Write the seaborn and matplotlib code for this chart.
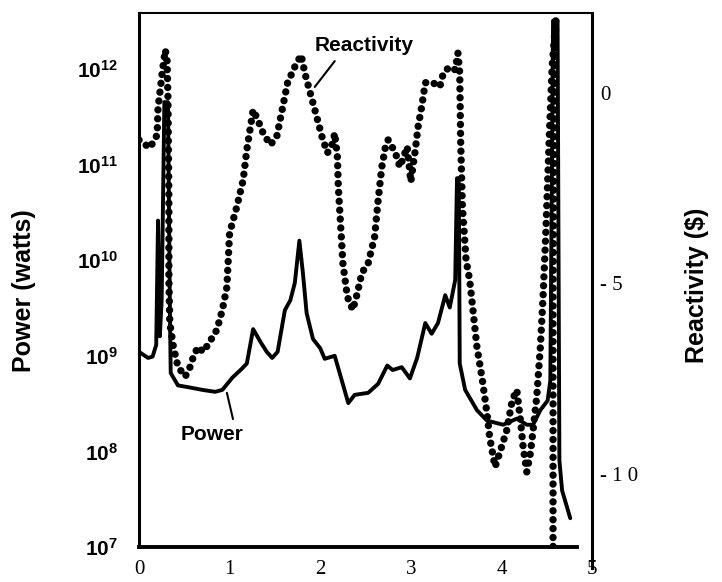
import matplotlib
matplotlib.use("Agg")
import numpy as np
import pandas as pd
import matplotlib.pyplot as plt
import seaborn as sns

sns.set_theme(style="white")
plt.rcParams["font.family"] = ["Liberation Sans", "DejaVu Sans"]
plt.rcParams["mathtext.fontset"] = "custom"
plt.rcParams["mathtext.rm"] = "Liberation Sans:bold"
plt.rcParams["mathtext.it"] = "Liberation Sans:bold"
plt.rcParams["mathtext.bf"] = "Liberation Sans:bold"
plt.rcParams["text.color"] = "black"
plt.rcParams["axes.labelcolor"] = "black"
plt.rcParams["xtick.color"] = "black"
plt.rcParams["ytick.color"] = "black"

# Power trace (solid line), time axis 0..5
power_time = [0.00, 0.10, 0.15, 0.19, 0.21, 0.23, 0.25, 0.28, 0.32, 0.34,
              0.35, 0.43, 0.54, 0.70, 0.84, 0.92, 1.03, 1.14, 1.19, 1.26,
              1.34, 1.41, 1.47, 1.53, 1.61, 1.67, 1.72, 1.77, 1.81, 1.85,
              1.92, 2.00, 2.05, 2.16, 2.31, 2.38, 2.53, 2.64, 2.74, 2.80,
              2.90, 2.99, 3.07, 3.16, 3.23, 3.30, 3.38, 3.43, 3.49, 3.51,
              3.53, 3.54, 3.60, 3.73, 3.84, 4.02, 4.17, 4.28, 4.35, 4.43,
              4.51, 4.54, 4.57, 4.62, 4.64, 4.67, 4.76]
power_watts = [1.1e9, 9.5e8, 9.8e8, 1.3e9, 2.6e10, 1.6e9, 3.8e9, 4.5e11, 4.5e11, 3.8e9,
               6.6e8, 4.9e8, 4.7e8, 4.4e8, 4.2e8, 4.4e8, 5.9e8, 7.4e8, 8.3e8, 1.9e9,
               1.4e9, 1.1e9, 9.5e8, 1.1e9, 3.0e9, 3.8e9, 5.8e9, 1.6e10, 7.2e9, 2.8e9,
               1.5e9, 1.2e9, 9.3e8, 1.0e9, 3.2e8, 3.9e8, 4.1e8, 5.1e8, 7.9e8, 7.1e8,
               7.6e8, 5.8e8, 9.5e8, 2.2e9, 1.7e9, 2.2e9, 4.3e9, 3.2e9, 6.2e9, 7.2e10,
               7.2e10, 8.3e8, 4.4e8, 2.7e8, 2.1e8, 1.9e8, 2.2e8, 1.9e8, 1.9e8, 2.7e8,
               3.4e8, 5.5e8, 3.2e12, 3.2e12, 8.1e7, 3.9e7, 2.0e7]

# Reactivity trace (dotted line)
react_time = [0.00, 0.12, 0.20, 0.21, 0.23, 0.26, 0.29, 0.31, 0.32, 0.33,
              0.33, 0.34, 0.38, 0.43, 0.51, 0.56, 0.60, 0.65, 0.71, 0.78,
              0.86, 0.92, 0.97, 1.00, 1.08, 1.15, 1.19, 1.23, 1.26, 1.31,
              1.37, 1.45, 1.52, 1.58, 1.64, 1.72, 1.79, 1.83, 1.89, 1.95,
              2.02, 2.08, 2.14, 2.16, 2.19, 2.20, 2.22, 2.25, 2.30, 2.36,
              2.41, 2.46, 2.53, 2.60, 2.64, 2.68, 2.72, 2.75, 2.83, 2.88,
              2.96, 2.99, 3.00, 3.05, 3.08, 3.12, 3.16, 3.23, 3.32, 3.36,
              3.43, 3.49, 3.52, 3.54, 3.55, 3.57, 3.61, 3.65, 3.69, 3.73,
              3.79, 3.84, 3.87, 3.93, 3.98, 4.06, 4.12, 4.17, 4.21, 4.24,
              4.28, 4.32, 4.35, 4.39, 4.43, 4.46, 4.49, 4.53, 4.56, 4.60,
              4.58, 4.57, 4.57, 4.57]
reactivity = [-1.24, -1.45, -1.11, -0.40, -0.01, 0.60, 1.12, 0.86, -0.19, -2.81,
              -4.92, -6.04, -6.67, -7.19, -7.45, -7.22, -6.93, -6.67, -6.80, -6.54,
              -6.22, -5.70, -5.10, -3.68, -2.99, -2.29, -1.50, -0.90, -0.45, -0.71,
              -1.06, -1.37, -1.16, -0.45, 0.26, 0.68, 0.99, 0.52, -0.01, -0.53,
              -1.16, -1.58, -1.32, -1.06, -1.69, -2.47, -3.26, -4.47, -5.36, -5.70,
              -5.26, -4.73, -4.47, -3.79, -2.81, -1.95, -1.42, -1.24, -1.58, -1.95,
              -1.42, -2.10, -2.34, -1.50, -0.90, -0.37, 0.26, 0.28, 0.15, 0.52,
              0.68, 0.60, 1.04, 0.52, -1.24, -3.00, -4.39, -4.92, -5.79, -6.67,
              -7.54, -8.40, -9.03, -9.82, -9.46, -8.85, -8.06, -7.80, -8.59, -9.30,
              -9.95, -9.46, -8.85, -7.98, -6.67, -5.36, -3.68, -1.06, 0.68, 1.91,
              -1.50, -5.44, -9.46, -12.30]

x_ticks = [0, 1, 2, 3, 4, 5]
power_ticks = [1e7, 1e8, 1e9, 1e10, 1e11, 1e12]
power_tick_labels = [r"$10^{7}$", r"$10^{8}$", r"$10^{9}$",
                     r"$10^{10}$", r"$10^{11}$", r"$10^{12}$"]
react_ticks = [0, -5, -10]
react_tick_labels = ["0", "- 5", "- 1 0"]

power_df = pd.DataFrame({"time": power_time, "power": power_watts})
react_df = pd.DataFrame({"time": react_time, "reactivity": reactivity})

fig = plt.figure(figsize=(7.22, 5.82), dpi=100)
ax = fig.add_axes([139 / 722, 35 / 582, 453 / 722, 534 / 582])
ax2 = ax.twinx()

sns.lineplot(data=power_df, x="time", y="power", ax=ax, sort=False,
             estimator=None, color="black", linewidth=2.8,
             solid_joinstyle="round", solid_capstyle="round")
sns.lineplot(data=react_df, x="time", y="reactivity", ax=ax2, sort=False,
             estimator=None, color="black", linewidth=5.3,
             linestyle=(0, (0.01, 1.2)), dash_capstyle="round")

ax.set_yscale("log")
ax.set_xlim(0, 5)
ax.set_ylim(1e7, 3.85e12)
ax2.set_ylim(-11.92, 2.09)

ax.set_xticks(x_ticks)
ax.set_xticklabels([str(t) for t in x_ticks], fontfamily="Liberation Serif",
                   fontsize=15)
ax.set_yticks(power_ticks)
ax.set_yticklabels(power_tick_labels, fontsize=15)
ax.yaxis.set_minor_locator(matplotlib.ticker.NullLocator())
ax2.set_yticks(react_ticks)
ax2.set_yticklabels(react_tick_labels, fontfamily="Liberation Serif",
                    fontsize=15)
ax.tick_params(axis="x", length=0, pad=9)
ax.tick_params(axis="y", length=0, pad=15)
ax2.tick_params(axis="y", length=0, pad=6)

ax.set_xlabel("")
ax.set_ylabel("Power (watts)", fontsize=18, fontweight="bold", va="center")
ax.yaxis.set_label_coords(-0.254, 0.48)
ax2.set_ylabel("Reactivity ($)", fontsize=18, fontweight="bold",
               va="center", rotation=90)
ax2.yaxis.set_label_coords(1.232, 0.49)

for side in ["top", "left", "bottom", "right"]:
    ax.spines[side].set_color("black")
    ax2.spines[side].set_color("black")
ax.spines["right"].set_visible(False)
ax.spines["top"].set_linewidth(1.5)
ax.spines["left"].set_linewidth(2.2)
ax.spines["bottom"].set_linewidth(2.8)
ax.spines["bottom"].set_bounds(0, 4.83)
for side in ["top", "left", "bottom"]:
    ax2.spines[side].set_visible(False)
ax2.spines["right"].set_linewidth(2.2)
ax2.spines["right"].set_bounds(-12.47, 2.09)

ax2.annotate("Reactivity", xy=(1.94, 0.15), xytext=(2.49, 1.25),
             fontsize=15, fontweight="bold", ha="center", va="center",
             color="black",
             arrowprops=dict(arrowstyle="-", color="black", lw=1.5,
                             relpos=(0.25, 0.0), shrinkA=3, shrinkB=0))
ax.annotate("Power", xy=(0.97, 4.1e8), xytext=(0.81, 1.5e8),
            fontsize=15, fontweight="bold", ha="center", va="center",
            color="black",
            arrowprops=dict(arrowstyle="-", color="black", lw=1.5,
                            relpos=(0.85, 1.0), shrinkA=2, shrinkB=0))

fig.savefig("out.png", dpi=100, facecolor="white")
